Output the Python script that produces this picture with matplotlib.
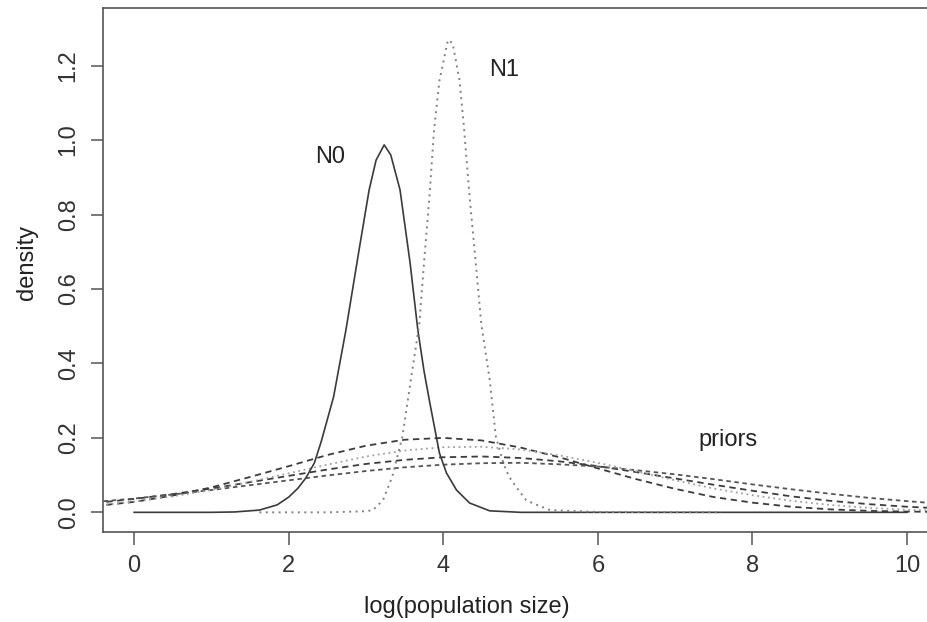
import matplotlib
matplotlib.use("Agg")
import matplotlib.pyplot as plt

plt.rcParams['font.family'] = ['Liberation Sans', 'DejaVu Sans']

# N0 posterior density (solid)
n0_x = [0.0, 0.5, 1.0, 1.3, 1.62, 1.85, 2.0, 2.12, 2.22, 2.33, 2.42, 2.58, 2.74, 2.91,
        3.04, 3.13, 3.235, 3.32, 3.44, 3.57, 3.67, 3.75, 3.82, 3.95, 4.04, 4.17, 4.34,
        4.6, 5.0, 6.0, 8.0, 10.0]
n0_y = [0.0, 0.0, 0.0, 0.001, 0.006, 0.02, 0.041, 0.065, 0.092, 0.132, 0.19, 0.31, 0.49, 0.705,
        0.866, 0.946, 0.987, 0.96, 0.866, 0.67, 0.49, 0.38, 0.30, 0.159, 0.106, 0.06, 0.025,
        0.004, 0.0, 0.0, 0.0, 0.0]

# N1 posterior density (dotted)
n1_x = [1.62, 2.5, 3.0, 3.09, 3.22, 3.34, 3.47, 3.58, 3.69, 3.75, 3.82, 3.88, 3.95, 4.06,
        4.12, 4.21, 4.27, 4.34, 4.42, 4.49, 4.6, 4.68, 4.78, 4.85, 4.94, 5.07, 5.16, 5.38,
        6.0, 7.6]
n1_y = [0.0, 0.0, 0.003, 0.006, 0.033, 0.096, 0.203, 0.356, 0.508, 0.67, 0.847, 1.027, 1.16, 1.269,
        1.26, 1.16, 1.027, 0.847, 0.67, 0.508, 0.356, 0.203, 0.13, 0.096, 0.069, 0.033, 0.024, 0.006,
        0.001, 0.0]

# prior densities
prior_x = [-0.5, 0.0, 0.5, 1.0, 1.5, 2.0, 2.5, 3.0, 3.5, 4.0, 4.5, 5.0, 5.5, 6.0,
           6.5, 7.0, 7.5, 8.0, 8.5, 9.0, 9.5, 10.0, 10.5]
prior_a = [0.017, 0.028, 0.045, 0.067, 0.095, 0.124, 0.154, 0.179, 0.195, 0.200, 0.193, 0.174,
           0.148, 0.118, 0.089, 0.063, 0.041, 0.026, 0.015, 0.008, 0.004, 0.002, 0.001]
prior_b = [0.025, 0.036, 0.049, 0.064, 0.081, 0.098, 0.115, 0.130, 0.141, 0.148, 0.150, 0.146,
           0.137, 0.124, 0.108, 0.091, 0.074, 0.058, 0.043, 0.031, 0.022, 0.015, 0.010]
prior_c = [0.028, 0.037, 0.048, 0.060, 0.073, 0.086, 0.099, 0.111, 0.121, 0.128, 0.132, 0.133,
           0.129, 0.123, 0.113, 0.102, 0.089, 0.075, 0.062, 0.050, 0.039, 0.030, 0.022]
prior_d = [0.018, 0.029, 0.043, 0.060, 0.082, 0.105, 0.128, 0.150, 0.166, 0.175, 0.176, 0.169,
           0.153, 0.133, 0.110, 0.086, 0.064, 0.046, 0.031, 0.020, 0.012, 0.007, 0.004]

x_ticks = [0, 2, 4, 6, 8, 10]
y_ticks = [0.0, 0.2, 0.4, 0.6, 0.8, 1.0, 1.2]

fig = plt.figure(figsize=(9.27, 6.22), dpi=100)
ax = fig.add_axes([0.1114, 0.1452, 0.9004, 0.8415])

ax.plot(prior_x, prior_a, color='#3c3c3c', lw=1.3, ls=(0, (3.5, 2.5)))
ax.plot(prior_x, prior_b, color='#3c3c3c', lw=1.3, ls=(0, (3.5, 2.5)))
ax.plot(prior_x, prior_c, color='#555555', lw=1.3, ls=(0, (2.5, 2)))
ax.plot(prior_x, prior_d, color='#a0a0a0', lw=1.3, ls=(0, (1, 2)))

ax.plot(n0_x, n0_y, color='#3a3a3a', lw=1.2)
ax.plot(n1_x, n1_y, color='#808080', lw=1.4, ls=(0, (1, 2.3)))

ax.text(2.53, 0.954, 'N0', fontsize=17, ha='center', va='center', color='#222222')
ax.text(4.79, 1.188, 'N1', fontsize=17, ha='center', va='center', color='#222222')
ax.text(7.68, 0.194, 'priors', fontsize=17, ha='center', va='center', color='#222222')

ax.set_xlim(-0.4, 10.4)
ax.set_ylim(-0.052, 1.354)
ax.set_xticks(x_ticks)
ax.set_xticklabels([str(t) for t in x_ticks])
ax.set_yticks(y_ticks)
ax.set_yticklabels(['%.1f' % t for t in y_ticks], rotation=90, va='center')

for s in ax.spines.values():
    s.set_color('#555555')
    s.set_linewidth(1.2)
ax.tick_params(length=9, width=1.1, color='#555555', labelsize=17, labelcolor='#333333', pad=8)

fig.text(467 / 927, 1 - 607 / 622, 'log(population size)', fontsize=17, ha='center', va='center',
         color='#222222')
fig.text(27 / 927, 1 - 262 / 622, 'density', fontsize=17, rotation=90, ha='center', va='center',
         color='#222222')

fig.savefig('out.png', dpi=100)
